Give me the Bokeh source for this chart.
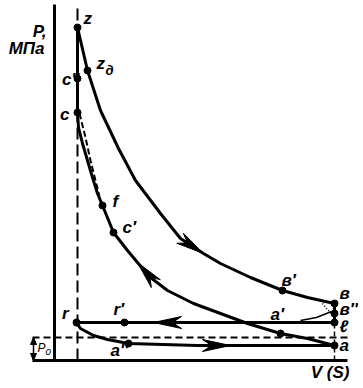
import math
from bokeh.plotting import figure
from bokeh.models import Range1d
from bokeh.embed import file_html
from bokeh.resources import INLINE
from bokeh.core.properties import value

# ---------------- data (V: stroke/volume units, P: pressure units) ----------------
expansion_v = [23, 33, 46, 64, 81, 106, 126, 149, 166, 196, 228, 253, 280]
expansion_p = [333, 290, 250, 212, 180, 147, 122, 107, 97, 83, 70, 63, 57]

compression_v = [280, 253, 226, 193, 166, 139, 113, 96, 83, 73, 59, 48, 43, 38, 33, 28, 24, 23]
compression_p = [15, 22, 27, 37, 47, 57, 70, 83, 98, 110, 128, 155, 167, 183, 200, 217, 233, 248]

combustion_v = [23, 23, 23]
combustion_p = [248, 282, 333]

no_ignition_v = [25, 31, 36, 41, 45]
no_ignition_p = [247, 223, 200, 180, 164]

blowdown_v = [280, 280, 280]
blowdown_p = [57, 47, 38]

early_exhaust_v = [246, 262, 277]
early_exhaust_p = [40, 43, 49]

exhaust_v = [280, 136, 99, 70, 22]
exhaust_p = [38, 38, 38, 38, 38]

intake_v = [22, 26, 39, 53, 74, 143, 176, 280]
intake_p = [38, 32, 25, 21, 17, 15, 15, 15]

point_names = ["z", "z", "c″", "c", "f", "c′", "в′", "в", "в″", "ℓ", "a", "a′", "r", "r′", "a″"]
point_v = [23, 33, 23, 23, 48, 59, 228, 280, 280, 280, 280, 226, 22, 70, 74]
point_p = [333, 290, 282, 248, 155, 128, 70, 57, 47, 38, 15, 27, 38, 38, 17]

V_c = 23      # TDC
V_a = 280     # BDC
P_0 = 23      # ambient pressure
V_max = 293
P_max = 356
y_title = "P,"
y_unit = "МПа"
x_title = "V (S)"

# ---------------- layout / style ----------------
W, H = 358, 382
FONT = value("Liberation Sans")
BLACK = "black"

p = figure(width=W, height=H, x_range=Range1d(-54, -54 + W), y_range=Range1d(360 - H, 360),
           output_backend="svg", toolbar_location=None, min_border=0,
           x_axis_location=None, y_axis_location=None)
p.grid.visible = False
p.outline_line_color = None
p.background_fill_color = "white"
p.border_fill_color = "white"

# axes
p.line([0, 0], [0, P_max], line_width=3, color=BLACK)
p.line([-22, V_max], [0, 0], line_width=3, color=BLACK)

# reference dashed lines
p.line([V_c, V_c], [0, P_max], line_width=2, color=BLACK, line_dash="12 5")
p.line([-22, V_max], [P_0, P_0], line_width=2, color=BLACK, line_dash="7 4")
p.line([V_a, V_a], [0, exhaust_p[0]], line_width=1.5, color=BLACK, line_dash="5 3")

# process curves
for vs, ps in [(expansion_v, expansion_p), (compression_v, compression_p),
               (combustion_v, combustion_p), (blowdown_v, blowdown_p),
               (exhaust_v, exhaust_p), (intake_v, intake_p)]:
    p.line(vs, ps, line_width=3, color=BLACK, line_join="round", line_cap="round")

p.line(no_ignition_v, no_ignition_p, line_width=2, color=BLACK, line_dash="6 3")
p.line(early_exhaust_v, early_exhaust_p, line_width=1.5, color=BLACK)
p.line([268, 272, 277], [57, 52, 47], line_width=1.5, color=BLACK, line_dash="1 2")


def head(tv, tp, fv, fp, L=28, hw=6, notch=9):
    dv, dp = tv - fv, tp - fp
    n = math.hypot(dv, dp)
    dv, dp = dv / n, dp / n
    nv, np_ = -dp, dv
    bv, bp = tv - dv * L, tp - dp * L
    mv, mp = tv - dv * (L - notch), tp - dp * (L - notch)
    return [tv, bv + nv * hw, mv, bv - nv * hw], [tp, bp + np_ * hw, mp, bp - np_ * hw]


hx, hy = [], []
for vs, ps, i in [(expansion_v, expansion_p, 7), (compression_v, compression_p, 8),
                  (exhaust_v, exhaust_p, 2), (intake_v, intake_p, 6)]:
    a, b = head(vs[i], ps[i], vs[i - 1], ps[i - 1])
    hx.append(a)
    hy.append(b)
# P0 bracket arrows
a, b = head(-21, P_0, -21, 0, L=7, hw=3, notch=0)
hx.append(a); hy.append(b)
a, b = head(-21, 0, -21, P_0, L=7, hw=3, notch=0)
hx.append(a); hy.append(b)
p.patches(hx, hy, color=BLACK, line_width=1)
p.line([-21, -21], [0, P_0], line_width=1.5, color=BLACK)

# points
p.scatter(point_v, point_p, size=7, color=BLACK)

# point labels: (dx, dp, align)
label_layout = [(6, 9, "left"), (9, 7, "left"), (2, -1, "right"), (-8, -2, "right"),
                (10, 4, "left"), (9, 5, "left"), (-1, 10, "left"), (5, 10, "left"),
                (5, 4, "left"), (5, -4, "left"), (5, 0, "left"), (-10, 19, "left"),
                (-8, 9, "right"), (-11, 13, "left"), (-18, -7, "left")]
for align in ["left", "right"]:
    xs, ys, ts = [], [], []
    for name, v, pp, (dx, dp, al) in zip(point_names, point_v, point_p, label_layout):
        if al == align:
            xs.append(v + dx); ys.append(pp + dp); ts.append(name)
    p.text(xs, ys, text=ts, text_font=FONT, text_font_style="bold italic",
           text_font_size="17px", text_align=align, text_baseline="middle", color=BLACK)

# subscript of z_д
p.text([point_v[1] + 18], [point_p[1]], text=["д"], text_font=FONT, text_font_style="bold italic",
       text_font_size="13px", text_align="left", text_baseline="middle", color=BLACK)

# axis titles
p.text([-8], [329], text=[y_title], text_font=FONT, text_font_style="bold italic",
       text_font_size="17px", text_align="right", text_baseline="middle", color=BLACK)
p.text([-10], [312], text=[y_unit], text_font=FONT, text_font_style="bold italic",
       text_font_size="17px", text_align="right", text_baseline="middle", color=BLACK)
p.text([295], [-12], text=[x_title], text_font=FONT, text_font_style="bold italic",
       text_font_size="17px", text_align="right", text_baseline="middle", color=BLACK)
p.text([-17], [13], text=["P"], text_font=FONT, text_font_style="italic",
       text_font_size="12px", text_align="left", text_baseline="middle", color=BLACK)
p.text([-9], [9], text=["o"], text_font=FONT, text_font_style="italic",
       text_font_size="10px", text_align="left", text_baseline="middle", color=BLACK)

open("out.html", "w").write(file_html(p, INLINE))
